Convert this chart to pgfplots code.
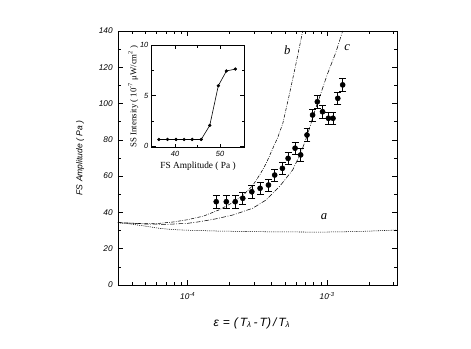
\documentclass[border=0pt]{standalone}
\usepackage{pgfplots}
\pgfplotsset{compat=1.18}
\usepackage{fontspec}
\setmainfont{Liberation Sans}
\newfontfamily\timesfont{Liberation Serif}

% data
\pgfplotstableread{
x        y      e
1.60e-4  45.9   3.4
1.89e-4  45.9   3.4
2.19e-4  45.9   3.4
2.48e-4  47.8   3.4
2.88e-4  51.4   3.4
3.30e-4  53.3   3.4
3.79e-4  55.1   3.4
4.20e-4  60.6   3.4
4.77e-4  64.3   3.4
5.24e-4  69.8   3.4
5.88e-4  75.4   3.4
6.45e-4  71.7   3.4
7.16e-4  82.7   3.4
7.85e-4  93.7   3.4
8.49e-4  101.0  3.4
9.25e-4  95.5   3.4
1.02e-3  91.9   3.4
1.10e-3  91.9   3.4
1.19e-3  102.9  3.4
1.29e-3  110.3  3.4
}\fsdata

\begin{document}
\begin{tikzpicture}
\useasboundingbox (0,0) rectangle (353.25pt,261.75pt);
\begin{axis}[
  at={(88.5pt,48pt)}, anchor=south west,
  scale only axis, width=209.25pt, height=190.5pt,
  xmode=log, xmin=3.1623e-5, xmax=3.1623e-3, ymin=0, ymax=140,
  ytick={0,20,...,140}, minor y tick num=1,
  xtick={1e-4,1e-3},
  xticklabels={\textit{10}\textsuperscript{\textit{-4}},\textit{10}\textsuperscript{\textit{-3}}},
  minor xtick={4e-5,5e-5,6e-5,7e-5,8e-5,9e-5,2e-4,3e-4,4e-4,5e-4,6e-4,7e-4,8e-4,9e-4,2e-3,3e-3},
  tick align=inside, major tick length=3.75pt, minor tick length=2.25pt,
  axis line style={line width=0.7pt},
  every tick/.style={black, line width=0.5pt},
  /pgf/number format/assume math mode=true,
  tick label style={font=\fontsize{6.2}{7}\selectfont\itshape},
  xticklabel style={yshift=-2pt},
  yticklabel style={xshift=-0.5pt},
  xlabel={ε\,\,=\,\,(\,T\textsubscript{λ}\,-\,T)\,/\,T\textsubscript{λ}},
  xlabel style={font=\fontsize{9}{10}\selectfont\itshape, at={(axis description cs:0.48,-0.15)}, anchor=center},
  ylabel={FS Amplitude ( Pa )},
  ylabel style={font=\fontsize{6.4}{7}\selectfont\itshape, at={(axis description cs:-0.136,0.5)}, anchor=center},
]
% curve a
\addplot[black, line width=0.4pt, dash pattern=on 0.8pt off 0.8pt] coordinates {
(3.16e-5,34.3) (3.9e-5,33.6) (4.9e-5,32.5) (6.3e-5,31.2) (8e-5,30.5) (1.0e-4,30.2)
(1.5e-4,29.8) (2.5e-4,29.5) (4e-4,29.3) (7e-4,29.2) (1e-3,29.2) (1.5e-3,29.4)
(2e-3,29.7) (3.16e-3,30.3)};
% curve b
\addplot[black, line width=0.4pt, dash pattern=on 2.5pt off 1pt on 0.5pt off 1pt] coordinates {
(3.16e-5,34.4) (4.5e-5,33.9) (6.3e-5,34.0) (8e-5,34.8) (1.0e-4,36.0) (1.3e-4,38.0)
(1.69e-4,41.5) (2.11e-4,45.5) (2.5e-4,49.5) (2.93e-4,55) (3.3e-4,61) (3.65e-4,67)
(4.0e-4,74) (4.4e-4,81) (4.8e-4,89) (5.35e-4,105) (5.97e-4,122) (6.67e-4,140)};
% curve c
\addplot[black, line width=0.4pt, dash pattern=on 3.5pt off 1.2pt on 0.6pt off 1.2pt] coordinates {
(3.16e-5,34.4) (5e-5,33.6) (7e-5,33.4) (1.0e-4,34.0) (1.22e-4,34.9) (1.6e-4,36.5)
(2.11e-4,38.6) (2.92e-4,42.3) (3.65e-4,46.9) (4.54e-4,54.2) (5.65e-4,63.4) (6.48e-4,73)
(7.16e-4,82) (8.11e-4,95.5) (1.0e-3,116) (1.15e-3,128) (1.29e-3,140)};
% measured points
\addplot[black, only marks, mark=*, mark size=1.9pt,
  error bars/.cd, y dir=both, y explicit,
  error bar style={line width=0.45pt},
  error mark options={rotate=90, mark size=2.6pt, line width=0.45pt}]
  table[x=x, y=y, y error=e] {\fsdata};
\node[font=\timesfont\itshape\fontsize{9.5}{10}\selectfont] at (axis cs:9.5e-4,37.5) {a};
\node[font=\timesfont\itshape\fontsize{9.5}{10}\selectfont] at (axis cs:5.18e-4,129.5) {b};
\node[font=\timesfont\itshape\fontsize{9.5}{10}\selectfont] at (axis cs:1.39e-3,130.6) {c};
\end{axis}

\begin{axis}[
  at={(113.8pt,151pt)}, anchor=south west,
  scale only axis, width=69.5pt, height=77pt,
  xmin=34.8, xmax=55.4, ymin=-0.15, ymax=10,
  xtick={40,50}, minor xtick={45},
  ytick={0,5,10}, minor ytick={2.5,7.5},
  tick align=inside, major tick length=3pt, minor tick length=2pt,
  axis line style={line width=0.7pt},
  axis background/.style={fill=white},
  every tick/.style={black, line width=0.5pt},
  /pgf/number format/assume math mode=true,
  tick label style={font=\fontsize{5.6}{6}\selectfont\itshape},
  xticklabel style={yshift=1pt},
  yticklabel style={xshift=1pt},
  xlabel={FS Amplitude ( Pa )},
  xlabel style={font=\timesfont\fontsize{7}{8}\selectfont, at={(axis description cs:0.5,-0.18)}, anchor=center},
  ylabel={SS Intensity ( 10\textsuperscript{-7} μW/cm\textsuperscript{2} )},
  ylabel style={font=\timesfont\fontsize{6.6}{7}\selectfont, at={(axis description cs:-0.2,0.5)}, anchor=center},
]
\addplot[black, line width=0.45pt, mark=*, mark size=1pt] coordinates {
(36.4,0.66) (38.3,0.66) (40.2,0.66) (42.0,0.66) (43.8,0.66) (45.8,0.66)
(47.7,2.05) (49.6,5.97) (51.4,7.43) (53.4,7.62)};
\end{axis}
\end{tikzpicture}
\end{document}
